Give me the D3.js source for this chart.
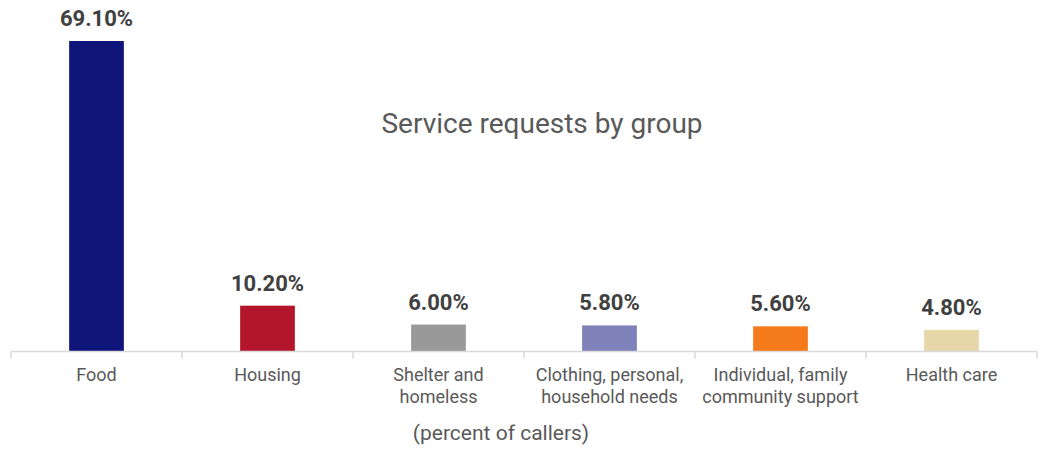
<!DOCTYPE html>
<html>
<head>
<meta charset="utf-8">
<script src="https://cdn.jsdelivr.net/npm/d3@7"></script>
<style>
  body { margin: 0; background: #fff; }
  svg { display: block; font-family: Roboto, "Noto Sans", sans-serif; }
  .value { font-weight: bold; font-size: 22px; fill: #404040; }
  .cat { font-size: 18px; fill: #595959; }
  .title { font-size: 28px; fill: #595959; }
  .note { font-size: 21px; fill: #595959; }
</style>
</head>
<body>
<svg width="1040" height="450"></svg>
<script>
  // chart data
  var categories = ["Food", "Housing", "Shelter and homeless", "Clothing, personal, household needs", "Individual, family community support", "Health care"];
  var labelLines = [["Food"], ["Housing"], ["Shelter and", "homeless"], ["Clothing, personal,", "household needs"], ["Individual, family", "community support"], ["Health care"]];
  var values = [69.1, 10.2, 6.0, 5.8, 5.6, 4.8];
  var colors = ["#0f1579", "#b3152a", "#999999", "#7f82b8", "#f47a1a", "#e6d7a9"];

  var svg = d3.select("svg");
  var left = 11, right = 1037, baseY = 351.5, topY = 41;

  var x = d3.scaleBand()
    .domain(categories)
    .range([left, right])
    .paddingInner(0.68)
    .paddingOuter(0.34);

  var y = d3.scaleLinear()
    .domain([0, 69.1])
    .range([baseY, topY]);

  // bars
  svg.append("g").selectAll("rect")
    .data(values)
    .enter().append("rect")
      .attr("x", (d, i) => x(categories[i]))
      .attr("y", d => y(d))
      .attr("width", x.bandwidth())
      .attr("height", d => baseY - y(d))
      .style("fill", (d, i) => colors[i]);

  // value labels
  svg.append("g").selectAll("text")
    .data(values)
    .enter().append("text")
      .classed("value", true)
      .attr("x", (d, i) => x(categories[i]) + x.bandwidth() / 2)
      .attr("y", d => y(d) - 15)
      .attr("text-anchor", "middle")
      .text(d => d.toFixed(2) + "%");

  // axis line and category dividers
  var axis = svg.append("g");
  axis.append("line")
    .attr("x1", left).attr("x2", right)
    .attr("y1", baseY).attr("y2", baseY)
    .style("stroke", "#d9d9d9").style("stroke-width", 1.5);
  axis.selectAll(".tick")
    .data(d3.range(categories.length + 1))
    .enter().append("line")
      .attr("x1", i => left + i * (right - left) / categories.length)
      .attr("x2", i => left + i * (right - left) / categories.length)
      .attr("y1", baseY).attr("y2", baseY + 7)
      .style("stroke", "#d9d9d9").style("stroke-width", 1.5);

  // category labels
  var cat = svg.append("g").selectAll("text")
    .data(categories)
    .enter().append("text")
      .classed("cat", true)
      .attr("text-anchor", "middle")
      .attr("transform", d => "translate(" + [x(d) + x.bandwidth() / 2, 381] + ")");
  cat.selectAll("tspan")
    .data((d, i) => labelLines[i])
    .enter().append("tspan")
      .attr("x", 0)
      .attr("dy", (d, i) => i == 0 ? 0 : 22)
      .text(d => d);

  svg.append("text")
    .classed("title", true)
    .attr("x", 542).attr("y", 133)
    .attr("text-anchor", "middle")
    .text("Service requests by group");

  svg.append("text")
    .classed("note", true)
    .attr("x", 501).attr("y", 440)
    .attr("text-anchor", "middle")
    .text("(percent of callers)");
</script>
</body>
</html>
